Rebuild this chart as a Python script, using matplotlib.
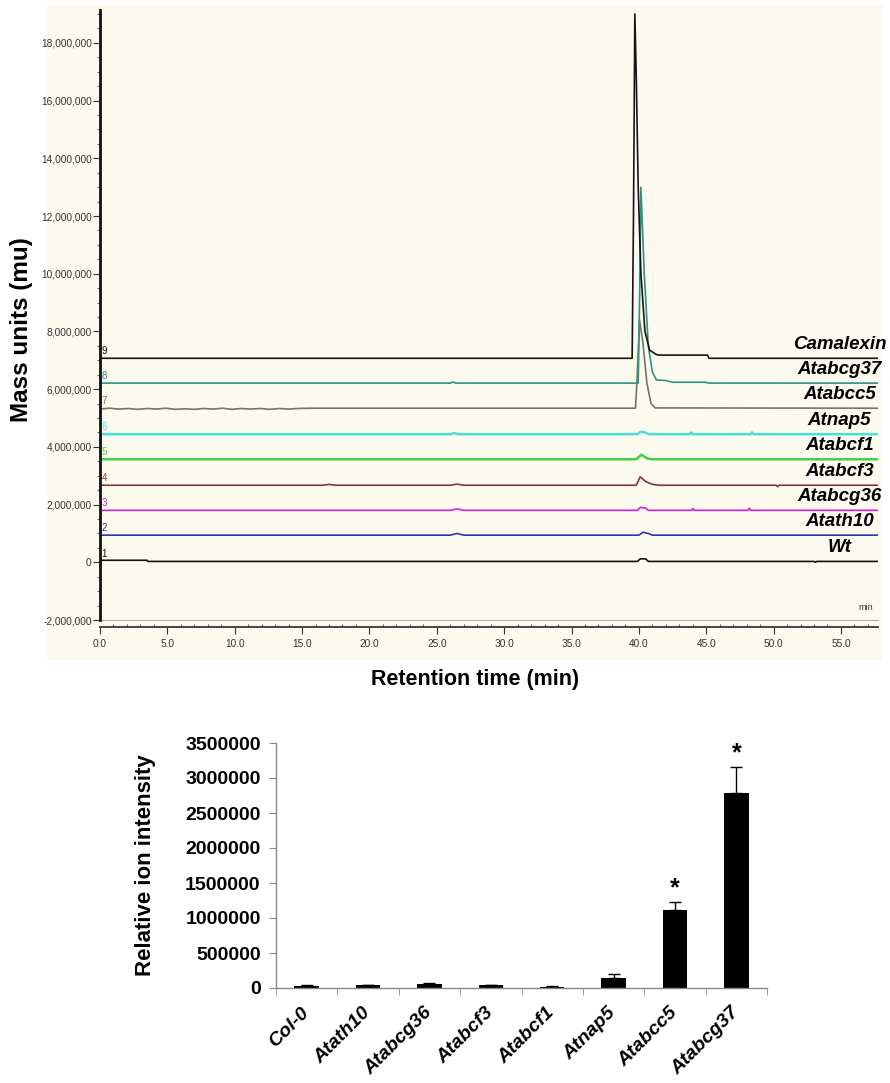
import matplotlib.pyplot as plt
from matplotlib.ticker import MultipleLocator, FuncFormatter
from matplotlib.patches import Rectangle

# ---- chromatograms (values in millions of mass units, time in min) ----
samples = ['Wt', 'Atath10', 'Atabcg36', 'Atabcf3', 'Atabcf1', 'Atnap5', 'Atabcc5', 'Atabcg37', 'Camalexin']
trace_colors = ['#111111', '#3333b0', '#d020d0', '#8a3535', '#44d044', '#48e0d8', '#7a7264', '#2c9282', '#151515']
baselines = [0.03, 0.94, 1.80, 2.67, 3.57, 4.44, 5.34, 6.21, 7.07]

wt_t = [0, 3.5, 3.55, 39.9, 40.1, 40.5, 40.7, 53.0, 53.1, 53.2, 57.7]
wt_y = [0.07, 0.07, 0.03, 0.03, 0.12, 0.12, 0.03, 0.03, 0.0, 0.03, 0.03]

ath10_t = [0, 26.0, 26.5, 27.0, 40.0, 40.3, 40.7, 41.0, 57.7]
ath10_y = [0.94, 0.94, 1.00, 0.94, 0.94, 1.04, 1.00, 0.94, 0.94]

abcg36_t = [0, 26.0, 26.5, 27.0, 39.9, 40.1, 40.5, 40.7, 43.9, 44.0, 44.1, 48.1, 48.2, 48.3, 57.7]
abcg36_y = [1.80, 1.80, 1.85, 1.80, 1.80, 1.90, 1.88, 1.80, 1.80, 1.86, 1.80, 1.80, 1.87, 1.80, 1.80]

abcf3_t = [0, 16.5, 17.0, 17.5, 26.0, 26.5, 27.0, 39.8, 40.1, 40.5, 41.0, 41.5, 50.2, 50.3, 50.4, 57.7]
abcf3_y = [2.67, 2.67, 2.70, 2.67, 2.67, 2.71, 2.67, 2.67, 2.96, 2.80, 2.70, 2.67, 2.67, 2.62, 2.67, 2.67]

abcf1_t = [0, 39.8, 40.2, 40.6, 41.0, 57.7]
abcf1_y = [3.57, 3.57, 3.73, 3.60, 3.57, 3.57]

nap5_t = [0, 26.0, 26.3, 26.6, 39.9, 40.1, 40.5, 40.7, 43.8, 43.9, 44.0, 48.3, 48.4, 48.5, 57.7]
nap5_y = [4.44, 4.44, 4.48, 4.44, 4.44, 4.52, 4.50, 4.44, 4.44, 4.50, 4.44, 4.44, 4.50, 4.44, 4.44]

abcc5_t = [0, 0.7, 1.4, 2.1, 2.8, 3.5, 4.2, 4.9, 5.6, 6.3, 7.0, 7.7, 8.4, 9.1, 9.8, 10.5, 11.2, 11.9,
           12.6, 13.3, 14.0, 14.7, 15.5, 39.75, 39.85, 40.05, 40.3, 40.6, 40.9, 41.2, 57.7]
abcc5_y = [5.31, 5.34, 5.31, 5.33, 5.30, 5.33, 5.31, 5.34, 5.30, 5.32, 5.30, 5.33, 5.31, 5.34, 5.30, 5.33,
           5.31, 5.33, 5.30, 5.33, 5.31, 5.33, 5.34, 5.34, 6.20, 8.40, 7.60, 6.20, 5.50, 5.35, 5.34]

abcg37_t = [0, 26.0, 26.2, 26.4, 39.95, 40.05, 40.15, 40.4, 40.7, 41.0, 41.3, 42.0, 42.5, 45.0, 45.1, 57.7]
abcg37_y = [6.21, 6.21, 6.25, 6.21, 6.21, 9.00, 13.0, 10.0, 7.50, 6.60, 6.32, 6.30, 6.24, 6.24, 6.21, 6.21]

cam_t = [0, 39.5, 39.6, 39.7, 39.8, 39.95, 40.15, 40.45, 40.8, 41.3, 41.5, 45.1, 45.2, 57.7]
cam_y = [7.07, 7.07, 12.0, 19.0, 17.0, 13.0, 10.0, 8.0, 7.35, 7.20, 7.18, 7.18, 7.07, 7.07]

traces = [(wt_t, wt_y), (ath10_t, ath10_y), (abcg36_t, abcg36_y), (abcf3_t, abcf3_y),
          (abcf1_t, abcf1_y), (nap5_t, nap5_y), (abcc5_t, abcc5_y), (abcg37_t, abcg37_y), (cam_t, cam_y)]

# ---- bar chart ----
genotypes = ['Col-0', 'Atath10', 'Atabcg36', 'Atabcf3', 'Atabcf1', 'Atnap5', 'Atabcc5', 'Atabcg37']
intensity = [30000, 40000, 57000, 40000, 20000, 143000, 1115000, 2786000]
intensity_err = [6000, 8000, 10000, 7000, 5000, 60000, 115000, 370000]
significant = [False, False, False, False, False, False, True, True]

plt.rcParams['font.family'] = ['Liberation Sans', 'DejaVu Sans']
cream = '#fcf9ef'

fig = plt.figure(figsize=(8.9, 10.83), dpi=100)
W, H = 890.0, 1083.0

fig.patches.append(Rectangle((47 / W, 1 - 660 / H), 835 / W, 655 / H, transform=fig.transFigure,
                             facecolor=cream, edgecolor='none', zorder=-5))

ax = fig.add_axes([100 / W, 1 - 620 / H, 778 / W, 610 / H])
ax.set_facecolor(cream)
for (t, y), c in zip(traces, trace_colors):
    lw = 1.8 if c in ('#44d044', '#48e0d8') else 1.2
    ax.plot(t, y, color=c, lw=lw)

for i, (name, base, c) in enumerate(zip(samples, baselines, trace_colors)):
    ax.text(0.12, base + 0.26, str(i + 1), color=c, fontsize=7, ha='left', va='center')
    ax.text(54.9, base + 0.48, name, fontsize=13.5, fontweight='bold', fontstyle='italic',
            ha='center', va='center')

ax.text(57.4, -1.55, 'min', fontsize=6.5, ha='right', va='center', color='#333333')
ax.axhline(-2.0, color='#aaaaaa', lw=0.8, clip_on=False)

ax.set_xlim(0, 57.75)
ax.set_ylim(-2.0, 19.14)
ax.spines['top'].set_visible(False)
ax.spines['right'].set_visible(False)
ax.spines['left'].set_linewidth(2)
ax.spines['left'].set_color('#111111')
ax.spines['bottom'].set_position(('outward', 5))
ax.spines['bottom'].set_linewidth(1.4)
ax.spines['bottom'].set_color('#444444')

ax.yaxis.set_major_locator(MultipleLocator(2))
ax.yaxis.set_minor_locator(MultipleLocator(0.5))
ax.yaxis.set_major_formatter(FuncFormatter(lambda v, p: f'{v * 1e6:,.0f}'))
ax.xaxis.set_major_locator(MultipleLocator(5))
ax.xaxis.set_minor_locator(MultipleLocator(1))
ax.xaxis.set_major_formatter(FuncFormatter(lambda v, p: f'{v:.1f}'))
ax.tick_params(axis='y', which='major', length=5, width=0.8, color='#333333', labelsize=7.3,
               labelcolor='#333333', pad=1)
ax.tick_params(axis='y', which='minor', length=2, width=0.8, color='#666666')
ax.tick_params(axis='x', which='major', length=5, width=0.8, color='#333333', labelsize=7.3,
               labelcolor='#333333', pad=4)
ax.tick_params(axis='x', which='minor', direction='in', length=2.5, width=0.8, color='#666666')

fig.text(22 / W, 1 - 330 / H, 'Mass units (mu)', rotation=90, fontsize=17.5, fontweight='bold',
         ha='center', va='center')
fig.text(475 / W, 1 - 679 / H, 'Retention time (min)', fontsize=15.5, fontweight='bold',
         ha='center', va='center')

# ---- bottom bar chart ----
ax2 = fig.add_axes([276 / W, 1 - 988 / H, 491 / W, 245 / H])
x = list(range(len(genotypes)))
ax2.bar(x, intensity, width=0.4, color='black',
        yerr=[[0] * len(intensity_err), intensity_err], capsize=4,
        error_kw=dict(lw=1, capthick=1, ecolor='black'))
for i, sig in enumerate(significant):
    if sig:
        ax2.annotate('*', (i, intensity[i] + intensity_err[i]), xytext=(0, 1),
                     textcoords='offset points', ha='center', va='bottom',
                     fontsize=18, fontweight='bold')

ax2.set_xlim(-0.5, 7.5)
ax2.set_ylim(0, 3500000)
ax2.yaxis.set_major_locator(MultipleLocator(500000))
ax2.yaxis.set_major_formatter(FuncFormatter(lambda v, p: f'{v:.0f}'))
ax2.spines['top'].set_visible(False)
ax2.spines['right'].set_visible(False)
for s in ('left', 'bottom'):
    ax2.spines[s].set_color('#888888')
    ax2.spines[s].set_linewidth(1)
ax2.set_xticks(x)
ax2.set_xticklabels(genotypes, rotation=45, ha='right', va='center', rotation_mode='anchor',
                    fontsize=14, fontweight='bold', fontstyle='italic')
ax2.set_xticks([v - 0.5 for v in range(len(genotypes) + 1)], minor=True)
ax2.tick_params(axis='x', which='major', length=0, pad=16)
ax2.tick_params(axis='x', which='minor', length=5, color='#888888')
ax2.tick_params(axis='y', length=5, color='#888888', labelsize=14, pad=6)
for lab in ax2.get_yticklabels():
    lab.set_fontweight('bold')

fig.text(146 / W, 1 - 865 / H, 'Relative ion intensity', rotation=90, fontsize=16, fontweight='bold',
         ha='center', va='center')

fig.savefig('out.png', dpi=100)
